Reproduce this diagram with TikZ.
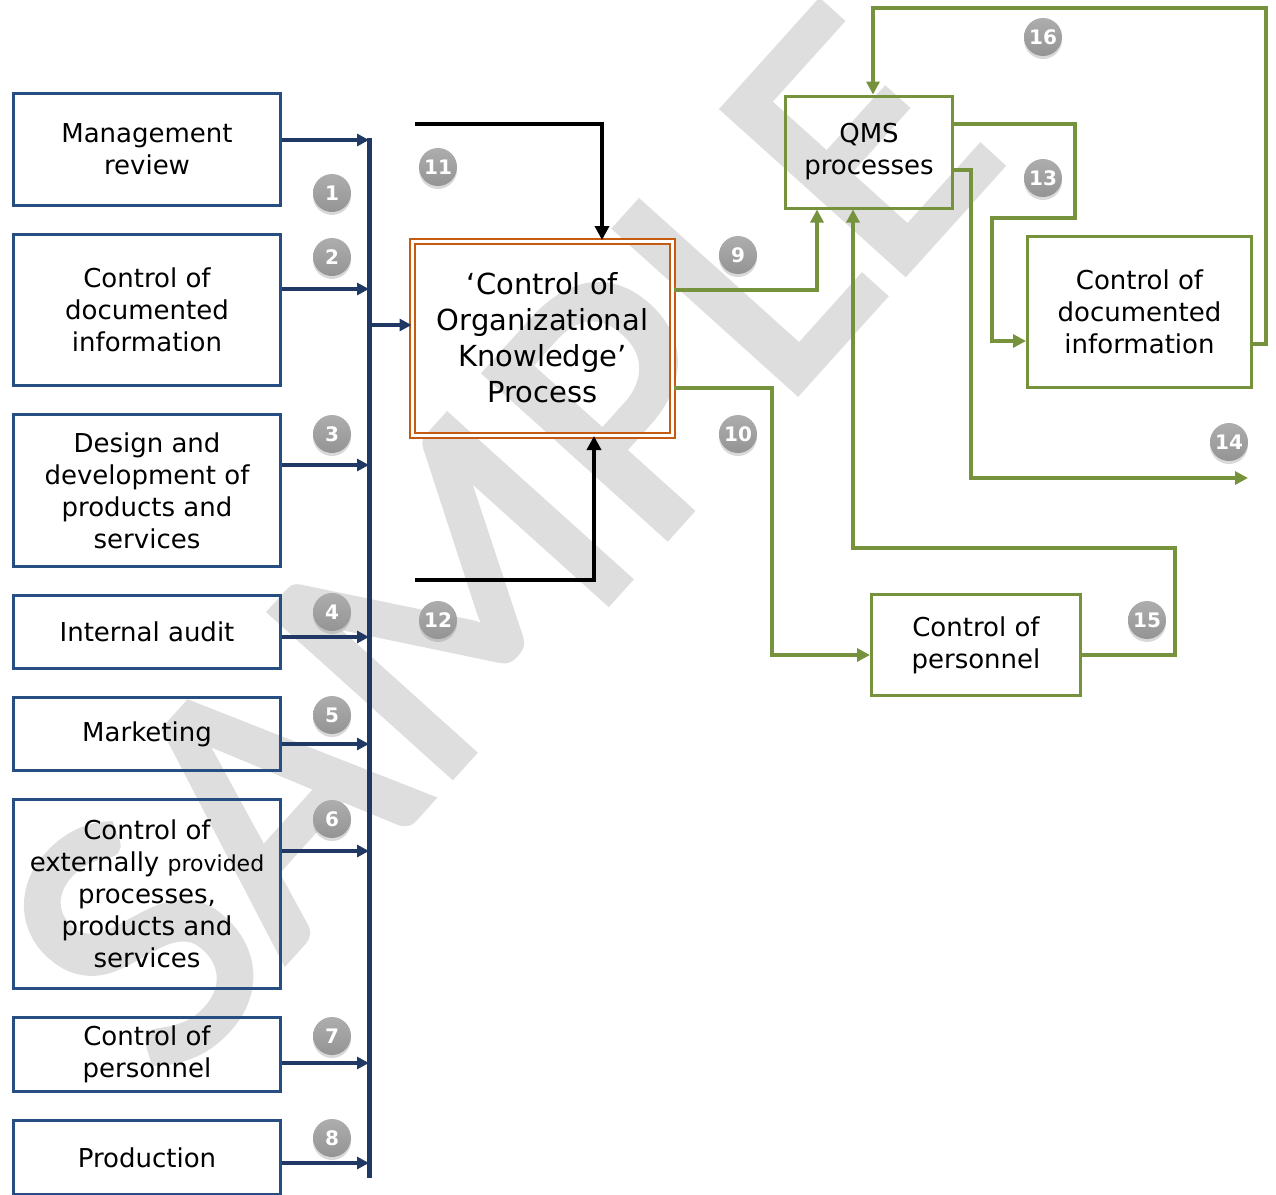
\documentclass[tikz,border=0pt]{standalone}
\usepackage{fontspec}
\setmainfont{DejaVu Sans}
\newfontfamily\wmfont[FakeBold=2]{Carlito}
\usetikzlibrary{positioning,arrows.meta,shadows}
\definecolor{BoxBlue}{RGB}{39,78,130}
\definecolor{BusBlue}{RGB}{31,56,100}
\definecolor{OliveLine}{RGB}{118,146,60}
\definecolor{KnowOrange}{RGB}{197,90,17}

\begin{document}
\begin{tikzpicture}[x=0.5pt, y=-0.5pt, node distance=13pt,
    every node/.style={font=\fontsize{13}{16}\selectfont, align=center},
    srcbox/.style={draw=BoxBlue, line width=1.5pt, minimum width=133.5pt, inner sep=2pt},
    greenbox/.style={draw=OliveLine, line width=1.5pt, inner sep=2pt},
    busarrow/.style={-{Triangle[length=6pt,width=6pt]}, line width=2pt, BusBlue},
    feedarrow/.style={-{Triangle[length=7pt,width=7pt]}, line width=2pt, black},
    greenarrow/.style={-{Triangle[length=6.5pt,width=6.5pt]}, line width=2.2pt, OliveLine},
    badge/.style={circle, minimum size=19pt, inner sep=0pt, text=white,
        font=\bfseries\fontsize{10}{10}\selectfont,
        top color=black!32, bottom color=black!42,
        drop shadow={shadow xshift=0pt, shadow yshift=-1.5pt, opacity=0.3}}]
  \useasboundingbox (0,0) rectangle (1276,1195);

  % watermark
  \node[rotate=48, text=black!13, font=\wmfont\fontsize{190}{190}\selectfont] (wm) at (500,540) {SAMPLE};

  % inputs on the left
  \node[srcbox, minimum height=56pt] (mgmt) at (147,149.5) {Management\\review};
  \node[srcbox, minimum height=75.5pt, below=of mgmt] (docs) {Control of\\documented\\information};
  \node[srcbox, minimum height=76pt, below=of docs] (design) {Design and\\development of\\products and\\services};
  \node[srcbox, minimum height=36.5pt, below=of design] (audit) {Internal audit};
  \node[srcbox, minimum height=36.5pt, below=of audit] (mkt) {Marketing};
  \node[srcbox, minimum height=94.5pt, below=of mkt] (extprov) {Control of\\externally {\fontsize{11}{16}\selectfont provided}\\processes,\\products and\\services};
  \node[srcbox, minimum height=37pt, below=of extprov] (pers) {Control of\\personnel};
  \node[srcbox, minimum height=37pt, below=of pers] (prod) {Production};

  \node[draw=KnowOrange, double=white, double distance=1.5pt, line width=1pt,
        minimum width=130pt, minimum height=97pt, font=\fontsize{14.5}{18}\selectfont]
        (cokp) at (542.5,338) {‘Control of\\Organizational\\Knowledge’\\Process};

  \node[greenbox, minimum width=83.5pt, minimum height=56pt] (qms) at (869,152) {QMS\\processes};
  \node[greenbox, minimum width=112pt, minimum height=75.5pt] (qdocs) at (1139.5,312) {Control of\\documented\\information};
  \node[greenbox, minimum width=104.5pt, minimum height=50.5pt] (qpers) at (976,645) {Control of\\personnel};

  % bus
  \coordinate (bustop) at (369,138);
  \coordinate (busbot) at (369,1178);
  \draw[BusBlue, line width=2.5pt] (bustop) -- (busbot);
  \foreach \src/\y in {mgmt/140, docs/289, design/465, audit/637, mkt/744, extprov/851, pers/1063, prod/1163}
    \draw[busarrow] (\src.east |- 0,\y) -- (bustop |- 0,\y);
  \draw[busarrow] (bustop |- 0,325) -- (cokp.west |- 0,325);

  % outside feeds
  \coordinate (in11) at (415,124);
  \coordinate (in12) at (415,580);
  \draw[feedarrow] (in11) -| (cokp.north -| 602,0);
  \draw[feedarrow] (in12) -| (cokp.south -| 594,0);

  % outputs
  \coordinate (out14) at (1248,478);
  \draw[greenarrow] (cokp.east |- 0,290) -| (qms.south -| 817,0);
  \draw[greenarrow] (cokp.east |- 0,388) -- (772,388) |- (qpers.west |- 0,655);
  \draw[greenarrow] (qms.east |- 0,124) -| (1075,218) -- (992,218) |- (qdocs.west |- 0,341);
  \draw[greenarrow] (qms.east |- 0,170) -- (971,170) |- (out14);
  \draw[greenarrow] (qpers.east |- 0,655) -- (1175,655) -- (1175,548) -| (qms.south -| 853,0);
  \draw[greenarrow] (qdocs.east |- 0,344) -| (1266,8) -| (qms.north -| 873,0);

  % badges
  \foreach \num/\x/\y in {1/332/193, 2/332/257, 3/332/434, 4/332/612, 5/332/715, 6/332/819,
      7/332/1036, 8/332/1138, 9/738/255, 10/738/434, 11/438/167, 12/438/620,
      13/1043/178, 14/1229/442, 15/1147/620, 16/1043/37}
    \node[badge] (b\num) at (\x,\y) {\num};
\end{tikzpicture}
\end{document}
